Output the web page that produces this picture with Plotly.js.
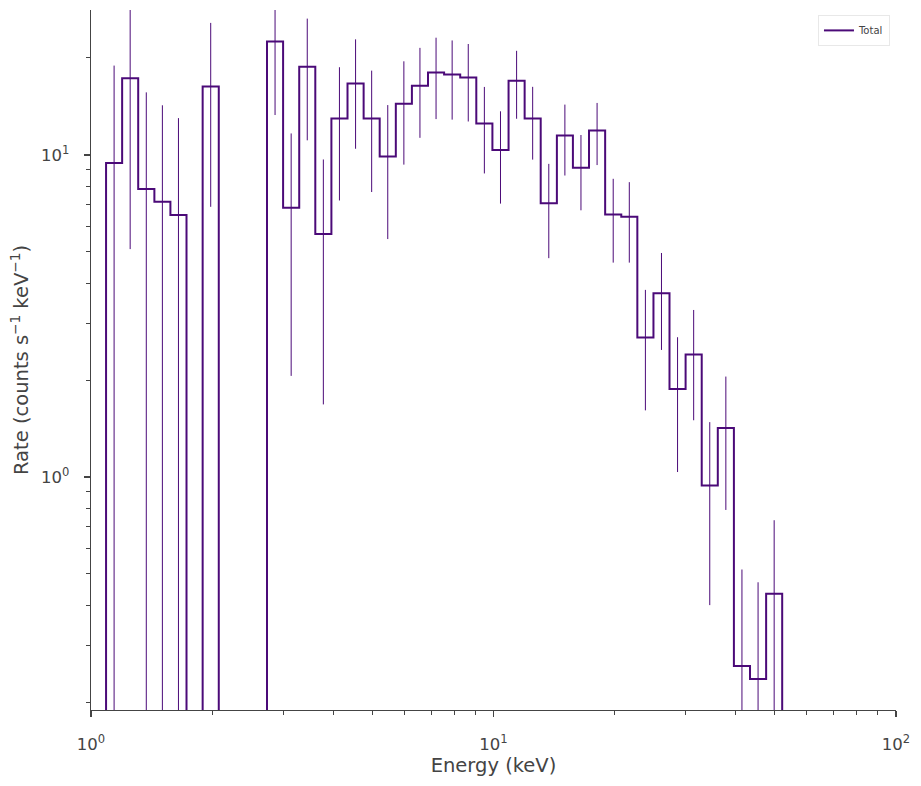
<!DOCTYPE html>
<html>
<head>
<meta charset="utf-8">
<script src="https://cdn.plot.ly/plotly-3.0.1.min.js"></script>
<style>
  html, body { margin: 0; padding: 0; background: #fff; }
  #chart { width: 921px; height: 786px; }
</style>
</head>
<body>
<div id="chart"></div>
<script>
// bin edges in keV (43 edges -> 42 bins)
const binEdges = [1.090, 1.195, 1.310, 1.437, 1.575, 1.727, 1.894, 2.077, 2.277, 2.497,
  2.737, 3.001, 3.291, 3.608, 3.956, 4.338, 4.757, 5.215, 5.719, 6.270,
  6.875, 7.538, 8.266, 9.063, 9.938, 10.90, 11.95, 13.10, 14.37, 15.75,
  17.27, 18.94, 20.77, 22.77, 24.97, 27.37, 30.01, 32.91, 36.08, 39.56,
  43.38, 47.57, 52.15];

// rate per bin (counts s^-1 keV^-1); 0 = not positive, below the log axis
const rate = [9.44, 17.3, 7.84, 7.16, 6.51, 0, 16.3, 0, 0, 0,
  22.5, 6.86, 18.8, 5.68, 12.97, 16.65, 12.97, 9.88, 14.43, 16.4,
  18.02, 17.77, 17.4, 12.51, 10.36, 17.0, 12.97, 7.08, 11.48, 9.13,
  11.9, 6.53, 6.43, 2.71, 3.72, 1.876, 2.40, 0.94, 1.42, 0.259,
  0.236, 0.434];

// 1-sigma errors
const rateErr = [9.5, 12.2, 7.8, 7.1, 6.5, 0, 9.4, 0, 0, 0,
  9.2, 4.8, 7.7, 4.0, 5.75, 6.2, 5.3, 4.4, 5.1, 5.1,
  5.1, 4.9, 4.7, 3.75, 3.3, 4.05, 3.3, 2.3, 2.85, 2.4,
  2.6, 1.9, 1.8, 1.1, 1.24, 0.84, 0.9, 0.54, 0.63, 0.257,
  0.235, 0.30];

const color = '#4b0a78';
const textColor = '#444444';
const axisColor = '#444444';
const CLIP = 1e-3; // like matplotlib's nonpositive='clip'

// step outline: rise from bottom at first edge, drop to bottom at last edge
const stepX = [binEdges[0]].concat(binEdges.slice(0, rate.length), [binEdges[rate.length]]);
const stepY = [CLIP].concat(rate.map(v => (v > 0 ? v : CLIP)), [CLIP]);

const centers = rate.map((_, i) => Math.sqrt(binEdges[i] * binEdges[i + 1]));

const stepTrace = {
  x: stepX,
  y: stepY,
  type: 'scatter',
  mode: 'lines',
  line: { shape: 'hv', color: color, width: 2 },
  name: 'Total',
  hoverinfo: 'skip',
};

const errTrace = {
  x: centers,
  y: rate.map(v => (v > 0 ? v : null)),
  type: 'scatter',
  mode: 'markers',
  marker: { size: 0.1, color: color, opacity: 0 },
  error_y: { type: 'data', array: rateErr, visible: true, color: color, thickness: 1, width: 0 },
  showlegend: false,
};

const minorX = [2, 3, 4, 5, 6, 7, 8, 9, 20, 30, 40, 50, 60, 70, 80, 90];
const minorY = [0.2, 0.3, 0.4, 0.5, 0.6, 0.7, 0.8, 0.9, 2, 3, 4, 5, 6, 7, 8, 9, 20];

const tickFont = { family: 'DejaVu Sans', size: 16.5, color: textColor };
const titleFont = { family: 'DejaVu Sans', size: 19.5, color: textColor };

const layout = {
  width: 921,
  height: 786,
  margin: { l: 91, r: 25, t: 10, b: 76 },
  paper_bgcolor: '#fff',
  plot_bgcolor: '#fff',
  font: { family: 'DejaVu Sans', color: textColor },
  showlegend: true,
  legend: {
    x: 0.9925, y: 0.993, xanchor: 'right', yanchor: 'top',
    bgcolor: 'rgba(255,255,255,0.8)', bordercolor: '#e8e8e8', borderwidth: 1,
    font: { family: 'DejaVu Sans', size: 10, color: textColor },
    itemwidth: 30,
  },
  xaxis: {
    type: 'log',
    range: [0, 2],
    showgrid: false,
    zeroline: false,
    showline: true,
    linecolor: axisColor,
    linewidth: 1.25,
    ticks: 'outside',
    ticklen: 6,
    tickwidth: 1.25,
    tickcolor: axisColor,
    tickmode: 'array',
    tickvals: [1, 10, 100],
    ticktext: ['10<sup>0</sup>', '10<sup>1</sup>', '10<sup>2</sup>'],
    tickfont: tickFont,
    ticklabelstandoff: 13,
    minor: { tickmode: 'array', tickvals: minorX, ticks: 'outside', ticklen: 4, tickwidth: 1, tickcolor: axisColor, showgrid: false },
    title: { text: 'Energy (keV)', font: titleFont, standoff: 5 },
    automargin: false,
  },
  yaxis: {
    type: 'log',
    range: [-0.7236, 1.450],
    showgrid: false,
    zeroline: false,
    showline: true,
    linecolor: axisColor,
    linewidth: 1.25,
    ticks: 'outside',
    ticklen: 6,
    tickwidth: 1.25,
    tickcolor: axisColor,
    tickmode: 'array',
    tickvals: [1, 10],
    ticktext: ['10<sup>0</sup>', '10<sup>1</sup>'],
    tickfont: tickFont,
    ticklabelstandoff: 11,
    minor: { tickmode: 'array', tickvals: minorY, ticks: 'outside', ticklen: 4, tickwidth: 1, tickcolor: axisColor, showgrid: false },
    title: { text: 'Rate (counts s<sup>\u22121</sup> keV<sup>\u22121</sup>)', font: titleFont, standoff: 7 },
    automargin: false,
  },
};

Plotly.newPlot('chart', [stepTrace, errTrace], layout, { staticPlot: true, displayModeBar: false });
</script>
</body>
</html>
